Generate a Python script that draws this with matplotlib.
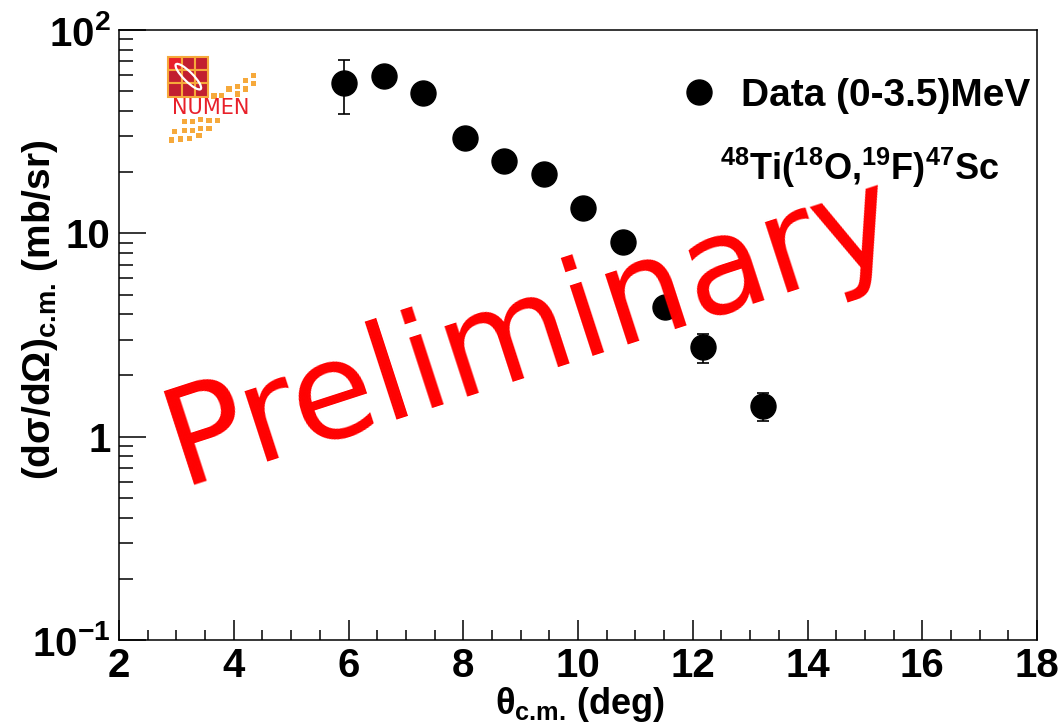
import numpy as np
import matplotlib
matplotlib.use('Agg')
import matplotlib.pyplot as plt
from matplotlib.patches import Rectangle, Ellipse
from matplotlib.lines import Line2D
from matplotlib.ticker import FixedLocator, FixedFormatter, NullFormatter

plt.rcParams['font.family'] = ['Liberation Sans', 'DejaVu Sans']
plt.rcParams['font.weight'] = 'bold'
plt.rcParams['mathtext.fontset'] = 'custom'
plt.rcParams['mathtext.rm'] = 'Liberation Sans:bold'
plt.rcParams['mathtext.it'] = 'Liberation Sans:bold'
plt.rcParams['mathtext.bf'] = 'Liberation Sans:bold'
plt.rcParams['mathtext.sf'] = 'Liberation Sans:bold'

# data (0-3.5 MeV region)
theta_cm = [5.93, 6.62, 7.30, 8.03, 8.71, 9.40, 10.09, 10.78, 11.51, 12.18, 13.22]
xsec = [54.7, 59.6, 48.8, 29.5, 22.8, 19.6, 13.3, 9.1, 4.35, 2.75, 1.42]
xsec_err = [16.2, 4.0, 3.0, 1.5, 1.2, 1.0, 0.7, 0.5, 0.3, 0.44, 0.22]

x_ticks = [2, 4, 6, 8, 10, 12, 14, 16, 18]
y_ticks = [0.1, 1, 10, 100]
y_ticklabels = [r'$10^{-1}$', '1', '10', r'$10^{2}$']

legend_label = 'Data (0-3.5)MeV'
reaction = r'$^{48}$Ti($^{18}$O,$^{19}$F)$^{47}$Sc'

W, H = 1061, 724
fig = plt.figure(figsize=(W / 100, H / 100), dpi=100)
ax = fig.add_axes([119 / W, 1 - 640 / H, (1037 - 119) / W, (640 - 30) / H])

ax.errorbar(theta_cm, xsec, yerr=xsec_err, fmt='o', color='black',
            markersize=18, elinewidth=1.2, capsize=4, capthick=1.2, zorder=3)

ax.set_yscale('log')
ax.set_xlim(2, 18)
ax.set_ylim(0.1, 100)

ax.xaxis.set_major_locator(FixedLocator(x_ticks))
ax.xaxis.set_minor_locator(FixedLocator(np.arange(2, 18.01, 0.5)))
ax.yaxis.set_major_locator(FixedLocator(y_ticks))
ax.yaxis.set_major_formatter(FixedFormatter(y_ticklabels))
minor_y = [m * 10.0 ** e for e in (-1, 0, 1) for m in range(2, 10)]
ax.yaxis.set_minor_locator(FixedLocator(minor_y))
ax.yaxis.set_minor_formatter(NullFormatter())

ax.tick_params(axis='x', which='major', direction='in', length=14.4, width=1.1,
               labelsize=29, pad=5)
ax.tick_params(axis='x', which='minor', direction='in', length=7.2, width=1.1)
ax.tick_params(axis='y', which='major', direction='in', length=19.4, width=1.1,
               labelsize=29, pad=6)
ax.tick_params(axis='y', which='minor', direction='in', length=10, width=1.1)
for s in ax.spines.values():
    s.set_linewidth(1.1)

fig.text(580 / W, 1 - 704 / H, r'$\theta_{\text{c.m.}}$ (deg)', fontsize=26,
         ha='center', va='center')
fig.text(40 / W, 1 - 310 / H, r'(d$\sigma$/d$\Omega$)$_{\text{c.m.}}$ (mb/sr)',
         fontsize=28, rotation=90, ha='center', va='center')

handle = Line2D([], [], marker='o', color='black', markersize=18, linestyle='none')
ax.legend([handle], [legend_label], loc='center right',
          bbox_to_anchor=(1050 / W, 1 - 96 / H),
          bbox_transform=fig.transFigure, frameon=False, fontsize=28,
          handlelength=1.0, handletextpad=0.6, borderpad=0)

fig.text(860 / W, 1 - 168 / H, reaction, fontsize=26, ha='center', va='center')

fig.text(532 / W, 1 - 332 / H, 'Preliminary', color='#ff0000', fontsize=97,
         family='DejaVu Sans', weight='normal', rotation=18,
         rotation_mode='anchor', ha='center', va='center', zorder=5)

# NUMEN logo (zoom-unit coordinates, 3 units per pixel)
lax = fig.add_axes([150 / W, 1 - 160 / H, 130 / W, 120 / H])
lax.set_xlim(0, 390)
lax.set_ylim(360, 0)
lax.axis('off')
for i in range(3):
    for j in range(3):
        c = '#e8202a' if (i == 0 and j == 0) else '#c21f30'
        lax.add_patch(Rectangle((55 + 40 * i, 50 + 40 * j), 40, 40,
                                facecolor=c, edgecolor='#f6a93b', lw=1.5))
lax.add_patch(Ellipse((115, 110), 105, 28, angle=45, fill=False,
                      edgecolor='white', lw=1.6))
lax.text(182, 203, 'NUMEN', color='#e8202a', fontsize=15, weight='normal',
         family='DejaVu Sans', ha='center', va='center')
squares = [(192, 168), (215, 166), (237, 147), (262, 140), (262, 162),
           (287, 122), (287, 147), (311, 106), (311, 130),
           (103, 245), (128, 245), (152, 238), (177, 242), (202, 242),
           (73, 275), (103, 272), (128, 272), (152, 265), (177, 265),
           (65, 300), (92, 297), (118, 295), (147, 287)]
for cx, cy in squares:
    lax.add_patch(Rectangle((cx - 8, cy - 8), 16, 16, facecolor='#f6a93b',
                            edgecolor='none'))

fig.savefig('out.png', dpi=100)
